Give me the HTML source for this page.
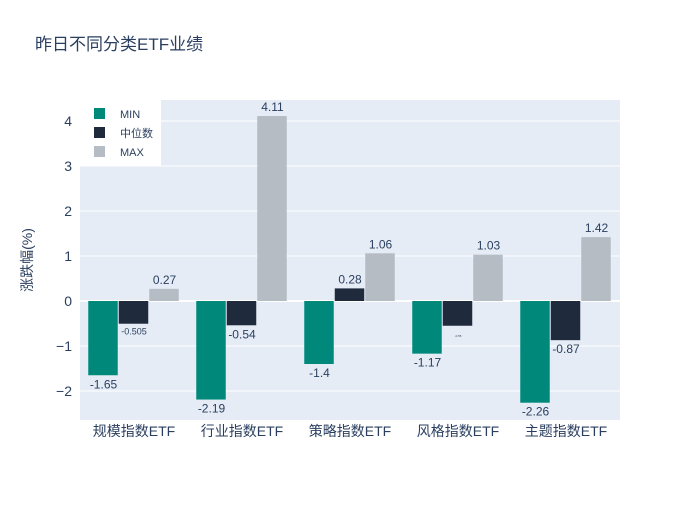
<!DOCTYPE html>
<html><head><meta charset="utf-8"><style>
body{margin:0;background:#fff}
svg{font-family:"Liberation Sans","Noto Sans CJK SC",sans-serif}
</style></head><body>
<svg id="c" width="700" height="500">
<rect width="700" height="500" fill="#fff"/>
<text x="35" y="50" font-size="17" fill="#2a3f5f">昨日不同分类ETF业绩</text>
<rect x="80" y="100" width="540" height="320" fill="#e5ecf6"/>
<g id="grid"></g><g id="bars"></g><g id="labels"></g>
<text transform="translate(32,260) rotate(-90)" text-anchor="middle" font-size="14" fill="#2a3f5f">涨跌幅(%)</text>
<g>
<rect x="80" y="100" width="81" height="66" fill="#fff"/>
<rect x="94" y="108" width="11" height="11" fill="#00897b"/><text x="120" y="118" font-size="11" fill="#2a3f5f">MIN</text>
<rect x="94" y="127" width="11" height="11" fill="#1f2a3c"/><text x="120" y="137" font-size="11" fill="#2a3f5f">中位数</text>
<rect x="94" y="146" width="11" height="11" fill="#b6bcc4"/><text x="120" y="156" font-size="11" fill="#2a3f5f">MAX</text>
</g>
</svg>
<script>
const categories=["规模指数ETF","行业指数ETF","策略指数ETF","风格指数ETF","主题指数ETF"];
const minVals=[-1.65,-2.19,-1.4,-1.17,-2.26];
const medVals=[-0.505,-0.54,0.28,-0.55,-0.87];
const maxVals=[0.27,4.11,1.06,1.03,1.42];
const yTicks=[-2,-1,0,1,2,3,4];
const NS="http://www.w3.org/2000/svg";
const X0=80,W=540,Y0=301,PX=45;
const y=v=>Y0-v*PX;
const band=W/categories.length;
function el(t,a,p){const e=document.createElementNS(NS,t);for(const k in a)e.setAttribute(k,a[k]);document.getElementById(p).appendChild(e);return e;}
yTicks.forEach(t=>{
 const l=el("line",{x1:X0,x2:X0+W,y1:y(t),y2:y(t),stroke:"#fff","stroke-width":t===0?2:1},"grid");
 
 
 const tx=el("text",{x:X0-8,y:y(t)+5,"text-anchor":"end","font-size":14,fill:"#2a3f5f"},"grid");
 tx.textContent=(t<0?"−"+(-t):t);
 
 
});
const series=[[minVals,"#00897b","min"],[medVals,"#1f2a3c","median"],[maxVals,"#b6bcc4","max"]];
const bw=30.5;
categories.forEach((c,i)=>{
 const cx=X0+band*(i+0.5);
 const tx=el("text",{x:cx,y:436,"text-anchor":"middle","font-size":14,fill:"#2a3f5f"},"labels");
 tx.textContent=c;
 
 
 series.forEach((s,j)=>{
  const v=s[0][i];const bx=cx-1.5*bw+j*bw;
  const r=el("rect",{x:bx,y:Math.min(y(v),Y0),width:bw-1,height:Math.abs(v)*PX,fill:s[1]},"bars");
  
  
  const small=Math.abs(v)*PX<30&&v<0&&j===1&&Math.abs(v)<0.6&&i!==1;
  const lt=el("text",{x:bx+bw/2,y:v>=0?y(v)-5:y(v)+13,"text-anchor":"middle","font-size":small?(i===3?3:9):12,fill:"#2a3f5f"},"labels");
  if(small) lt.setAttribute("y",y(v)+11);
  lt.textContent=String(v);
  
  
 });
});
</script>
</body></html>
